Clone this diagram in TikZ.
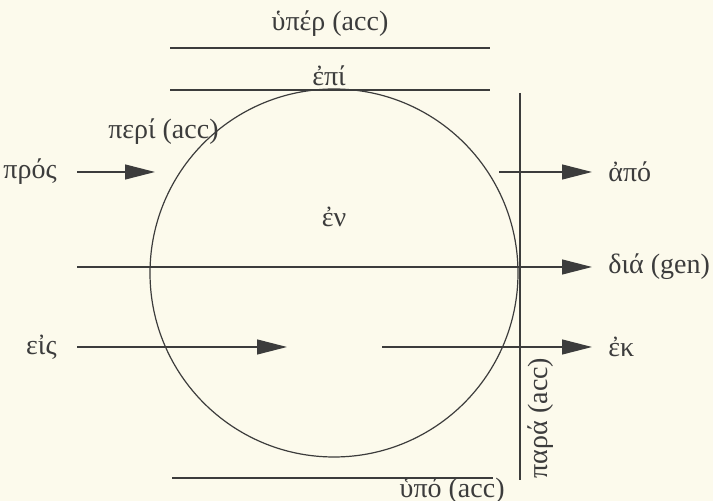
\documentclass[tikz,border=0pt]{standalone}
\usepackage{fontspec}
\setmainfont{Liberation Serif}
\usepackage{xcolor}
\usetikzlibrary{arrows.meta, positioning, calc}
\definecolor{paper}{HTML}{FCFAEC}
\definecolor{ink}{HTML}{3C3C3C}

\begin{document}
\begin{tikzpicture}[x=0.5pt, y=-0.5pt, node distance=8pt,
    every node/.style={text=ink, inner sep=0pt, font=\fontsize{14}{16}\selectfont},
    bar/.style={draw=ink, line width=0.6pt},
    move/.style={bar, -{Triangle[length=15pt, width=7.5pt, fill=ink]}}]
    % page
    \fill[paper] (0,0) rectangle (713,501);
    \useasboundingbox (0,0) rectangle (713,501);

    % the circle
    \coordinate (mid) at (334,273);
    \draw[bar] (mid) circle[radius=92pt];
    \node (en) at (334,217) {ἐν};

    % over, on, around
    \draw[bar] (170,48) -- (490,48);
    \draw[bar] (170,90) -- (490,90);
    \node (hyper) at (330,24) {ὑπέρ (acc)};
    \node (epi) at (329,76) {ἐπί};
    \node[anchor=east] (peri) at (219,132) {περί (acc)};

    % beside, under
    \draw[bar] (520,93) -- (520,480);
    \node[rotate=90] (para) at (541,418) {παρά (acc)};
    \draw[bar] (172,478) -- (493,478);
    \node[anchor=east] (hypo) at (505,491) {ὑπό (acc)};

    % motion
    \coordinate (prosS) at (77,172);  \coordinate (prosE) at (155,172);
    \coordinate (apoS)  at (499,172); \coordinate (apoE)  at (592,172);
    \coordinate (diaS)  at (77,267);  \coordinate (diaE)  at (592,267);
    \coordinate (eisS)  at (77,347);  \coordinate (eisE)  at (287,347);
    \coordinate (ekS)   at (382,347); \coordinate (ekE)   at (592,347);

    \node[left=10pt of prosS] (pros) {πρός};
    \node[left=10pt of eisS] (eis) {εἰς};
    \node[right=of apoE] (apo) {ἀπό};
    \node[right=of diaE] (dia) {διά (gen)};
    \node[right=of ekE] (ek) {ἐκ};

    \draw[move] (prosS) -- (prosE);
    \draw[move] (apoS) -- (apoE);
    \draw[move] (diaS) -- (diaE);
    \draw[move] (eisS) -- (eisE);
    \draw[move] (ekS) -- (ekE);
\end{tikzpicture}
\end{document}
